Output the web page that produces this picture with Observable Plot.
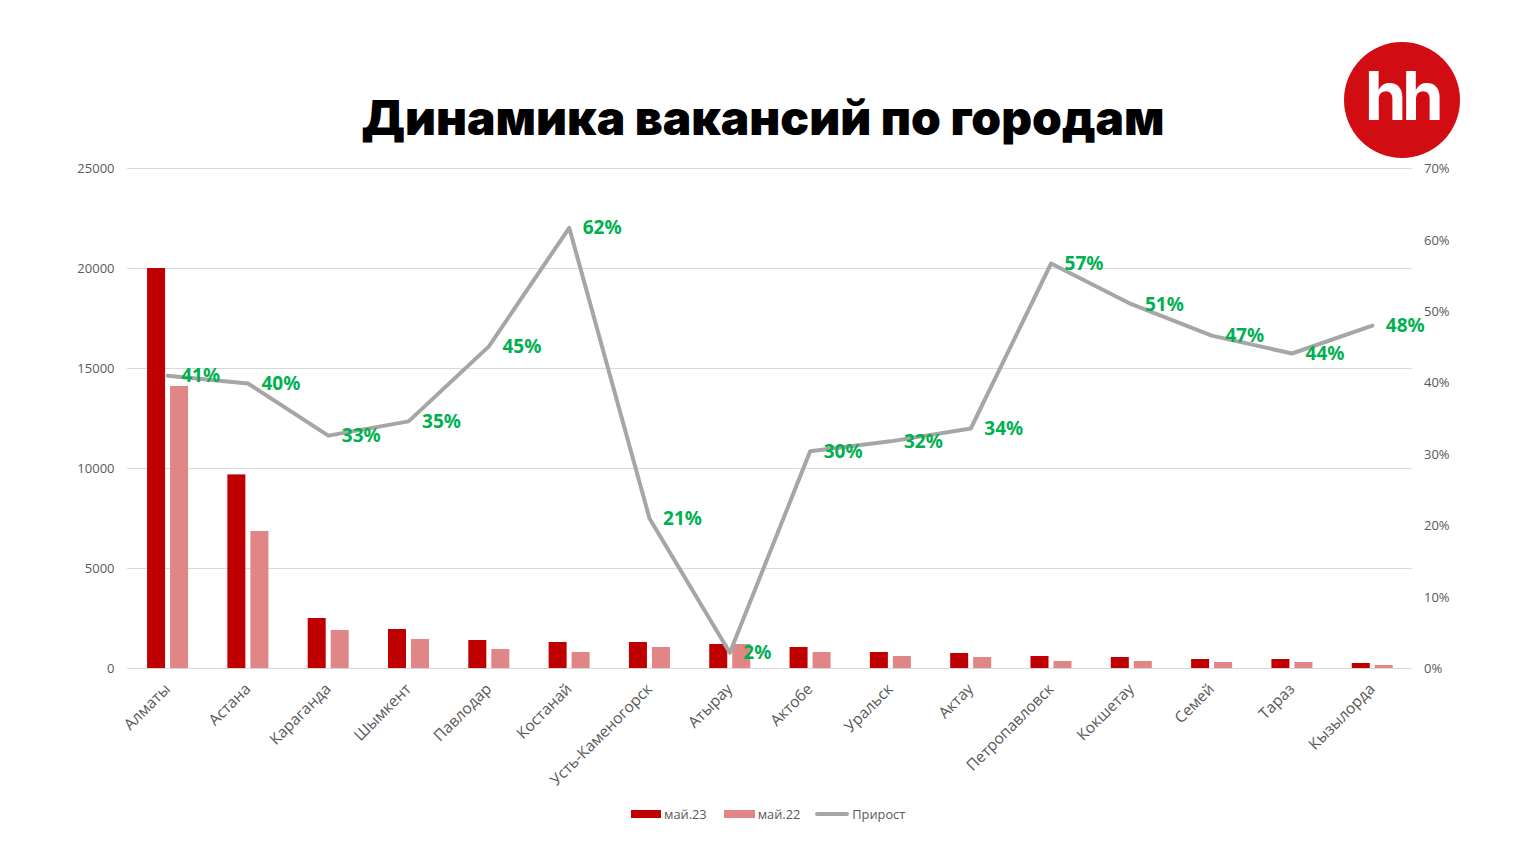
<!DOCTYPE html>
<html lang="ru">
<head>
<meta charset="utf-8">
<script src="https://cdn.jsdelivr.net/npm/d3@7"></script>
<script src="https://cdn.jsdelivr.net/npm/@observablehq/plot@0.6"></script>
<style>
html,body{margin:0;padding:0;background:#fff;}
body{width:1526px;height:856px;position:relative;overflow:hidden;}
#title{height:150px;box-sizing:border-box;padding-top:89px;text-align:center;font-family:Inter,sans-serif;font-weight:900;font-size:47.8px;line-height:58px;color:#000;}
#logo{position:absolute;left:1344px;top:42px;width:116px;height:116px;border-radius:50%;background:#D20C13;color:#fff;font-family:Inter,sans-serif;font-weight:700;font-size:67px;line-height:108px;text-align:center;letter-spacing:-4.5px;}
#chart svg{display:block;}
#legend{position:absolute;left:631px;top:804px;height:20px;display:flex;align-items:center;font-family:"Open Sans",sans-serif;font-size:12.8px;color:#595959;}
#legend i{display:block;}
</style>
</head>
<body>
<div id="title">Динамика вакансий по городам</div>
<div id="logo">hh</div>
<div id="chart"></div>
<div id="legend"></div>
<script>
const cities = ["Алматы","Астана","Караганда","Шымкент","Павлодар","Костанай","Усть-Каменогорск","Атырау","Актобе","Уральск","Актау","Петропавловск","Кокшетау","Семей","Тараз","Кызылорда"];
const may23 = [20000,9680,2500,1950,1400,1300,1300,1200,1050,800,750,600,550,450,450,250];
const may22 = [14100,6850,1900,1450,950,800,1050,1200,800,600,550,350,350,300,300,150];
const growth = [41,39.9,32.6,34.6,45.1,61.7,21,2.2,30.4,31.8,33.6,56.7,51,46.6,44.1,48];
const countTicks = [0,5000,10000,15000,20000,25000];
const pctTicks = [0,10,20,30,40,50,60,70];
const seriesNames = ["май.23","май.22","Прирост"];
const colors = ["#C00000","#E18686","#A6A6A6"];

const FONT = '"Open Sans",sans-serif';
const yMax = 25000, pctMax = 70;
const toY = p => p * yMax / pctMax;
const rows = cities.map((city,i)=>({city,a:may23[i],b:may22[i],g:growth[i]}));

const plot = Plot.plot({
  width:1526, height:640,
  marginLeft:127, marginRight:114, marginTop:18, marginBottom:122,
  style:{fontFamily:FONT, background:"transparent"},
  x:{domain:cities, padding:0, round:false, label:null},
  y:{domain:[0,yMax], label:null},
  marks:[
    Plot.ruleY(countTicks,{stroke:"#D9D9D9",strokeWidth:1}),
    Plot.barY(rows,{x:"city",y:"a",fill:colors[0],insetLeft:31.15,insetRight:31.15,dx:-11.1}),
    Plot.barY(rows,{x:"city",y:"b",fill:colors[1],insetLeft:31.15,insetRight:31.15,dx:11.9}),
    Plot.line(rows,{x:"city",y:d=>toY(d.g),stroke:colors[2],strokeWidth:4,curve:"linear"}),
    Plot.text(rows,{x:"city",y:d=>toY(d.g),text:d=>Math.round(d.g)+"%",textAnchor:"start",dx:13.5,dy:0.5,fill:"#00B050",fontWeight:700,fontSize:19,fontFamily:'"Noto Sans",sans-serif'}),
    Plot.axisY(countTicks,{anchor:"left",tickSize:0,tickPadding:13,label:null,tickFormat:d=>String(d),fontSize:13,fill:"#595959"}),
    Plot.axisY(pctTicks.map(toY),{anchor:"right",tickSize:0,tickPadding:11.5,label:null,dy:0.5,tickFormat:d=>Math.round(d*pctMax/yMax)+"%",fontSize:13,fill:"#595959"}),
    Plot.axisX({anchor:"bottom",tickSize:0,tickPadding:18,label:null,tickRotate:-45,fontSize:15.5,fill:"#595959"})
  ]
});
document.getElementById("chart").append(plot);

const legend = document.getElementById("legend");
const items = [
  {w:30,h:8,r:0,gap:3,after:17},
  {w:31,h:8,r:0,gap:3,after:15},
  {w:34,h:4,r:2,gap:3,after:0}
];
seriesNames.forEach((name,i)=>{
  const s=document.createElement("i");
  s.style.cssText=`width:${items[i].w}px;height:${items[i].h}px;border-radius:${items[i].r}px;background:${colors[i]};margin-right:${items[i].gap}px`;
  const t=document.createElement("span");
  t.textContent=name;
  t.style.marginRight=items[i].after+"px";
  legend.append(s,t);
});
</script>
</body>
</html>
